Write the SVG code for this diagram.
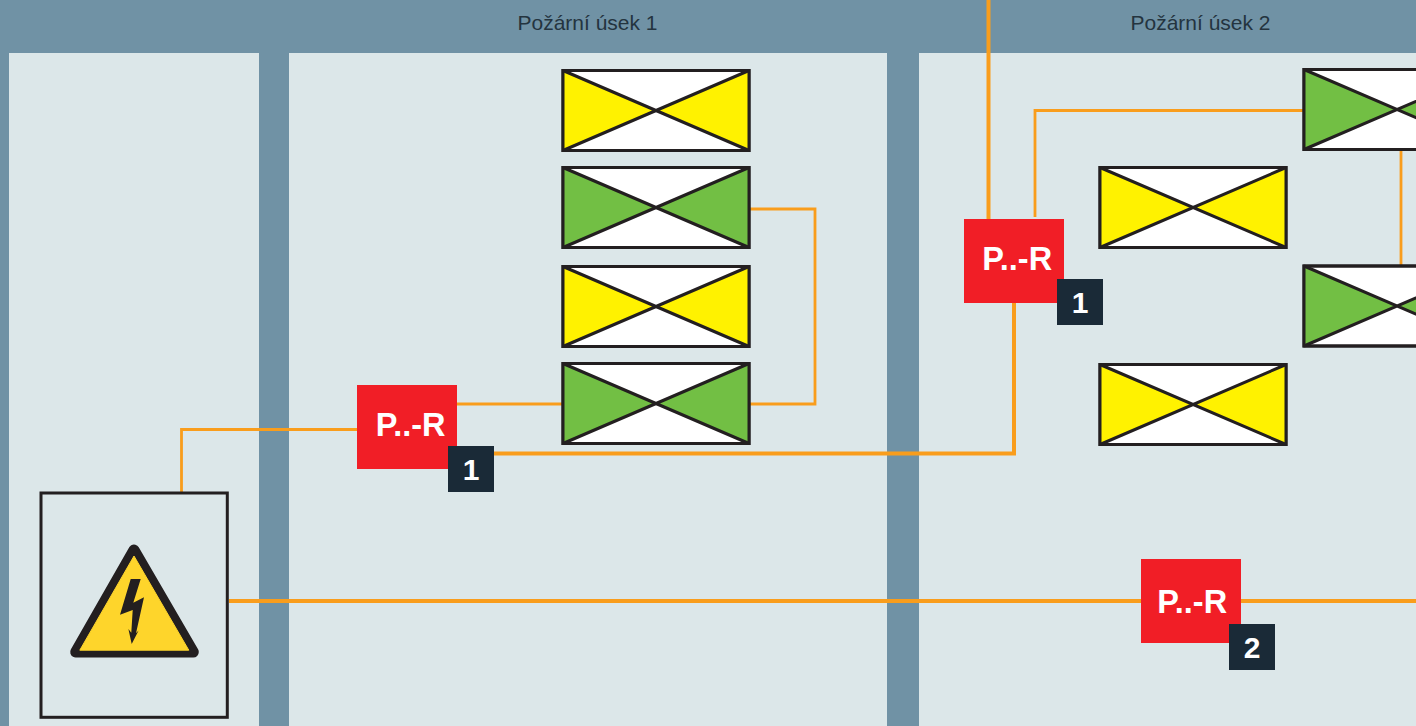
<svg xmlns="http://www.w3.org/2000/svg" xmlns:xlink="http://www.w3.org/1999/xlink" width="1416" height="726" viewBox="0 0 1416 726">
<style>
.bg{fill:#7092a5}
.panel{fill:#dce7e9}
.title{font:21px "Liberation Sans",Arial,sans-serif;fill:#24343f;text-anchor:middle}
.thin{fill:none;stroke:#f99d1c;stroke-width:2.8}
.thick{fill:none;stroke:#f99d1c;stroke-width:4}
.frame{fill:#fff;stroke:#231f20;stroke-width:3}
.x{fill:none;stroke:#231f20;stroke-width:3}
.y{fill:#fff200}
.g{fill:#72bf44}
.red{fill:#f11e26}
.dark{fill:#1a2a37}
.lbl{font:bold 32.5px "Liberation Sans",Arial,sans-serif;fill:#fff}
.num{font:bold 30px "Liberation Sans",Arial,sans-serif;fill:#fff;text-anchor:middle}
</style>
<defs>
<g id="lampY"><rect class="frame" x="0" y="0" width="186" height="80"/><path class="y" d="M0 0L93 40L0 80ZM186 0L93 40L186 80Z"/><path class="x" d="M0 0L186 80M186 0L0 80"/><rect class="x" x="0" y="0" width="186" height="80"/></g>
<g id="lampG"><rect class="frame" x="0" y="0" width="186" height="80"/><path class="g" d="M0 0L93 40L0 80ZM186 0L93 40L186 80Z"/><path class="x" d="M0 0L186 80M186 0L0 80"/><rect class="x" x="0" y="0" width="186" height="80"/></g>
</defs>
<rect class="bg" width="1416" height="726"/>
<rect class="panel" x="9" y="53" width="250" height="673"/>
<rect class="panel" x="289" y="53" width="598" height="673"/>
<rect class="panel" x="919" y="53" width="497" height="673"/>
<text class="title" x="587.5" y="29.5">Požární úsek 1</text>
<text class="title" x="1200.5" y="29.5">Požární úsek 2</text>
<g id="connectors">
<path class="thin" d="M181.5 493V429.5H357"/>
<path class="thin" d="M457 404H563"/>
<path class="thin" d="M749 209H815V404H749"/>
<path class="thick" d="M494 453.5H1014V303"/>
<path class="thick" d="M988.5 0V219"/>
<path class="thin" d="M1035 217V110.5H1304"/>
<path class="thin" d="M1401 150V265"/>
<path class="thick" d="M229 601H1141M1241 601H1416"/>
</g>
<g id="lamp-1"><use xlink:href="#lampY" href="#lampY" x="563" y="70.5"/></g>
<g id="lamp-2"><use xlink:href="#lampG" href="#lampG" x="563" y="167.5"/></g>
<g id="lamp-3"><use xlink:href="#lampY" href="#lampY" x="563" y="266.5"/></g>
<g id="lamp-4"><use xlink:href="#lampG" href="#lampG" x="563" y="363.5"/></g>
<g id="lamp-5"><use xlink:href="#lampY" href="#lampY" x="1100" y="167.5"/></g>
<g id="lamp-6"><use xlink:href="#lampY" href="#lampY" x="1100" y="364.5"/></g>
<g id="lamp-7"><use xlink:href="#lampG" href="#lampG" x="1304" y="69.5"/></g>
<g id="lamp-8"><use xlink:href="#lampG" href="#lampG" x="1304" y="266"/></g>
<g id="switchboard">
<rect x="41" y="493" width="186.3" height="224.3" fill="none" stroke="#231f20" stroke-width="3"/>
<polygon points="134,550 75.7,652 193.3,652" fill="#231f20" stroke="#231f20" stroke-width="11" stroke-linejoin="round"/>
<polygon points="134,556 79.8,650.2 188.8,650.2" fill="#fed52b" stroke="#fed52b" stroke-width="1" stroke-linejoin="round"/>
<polygon points="130.7,579 140.7,579 133.3,602.7 144,597.3 136,633.3 138.6,630.5 131.7,644 128.4,629 131.3,632.7 132.7,610 120,614.7" fill="#231f20"/>
</g>
<g id="fire-damper-1">
<rect class="red" x="357" y="385" width="100" height="84"/>
<text class="lbl" x="375.7" y="436">P..-R</text>
<rect class="dark" x="448" y="446" width="46" height="46"/>
<text class="num" x="471" y="479.5">1</text>
</g>
<g id="fire-damper-2">
<rect class="red" x="964" y="219" width="100" height="84"/>
<text class="lbl" x="982.3" y="270">P..-R</text>
<rect class="dark" x="1057" y="279" width="46" height="46"/>
<text class="num" x="1080" y="312.5">1</text>
</g>
<g id="fire-damper-3">
<rect class="red" x="1141" y="559" width="100" height="84"/>
<text class="lbl" x="1157.3" y="612.5">P..-R</text>
<rect class="dark" x="1229" y="624" width="46" height="46"/>
<text class="num" x="1252" y="658">2</text>
</g>
</svg>
